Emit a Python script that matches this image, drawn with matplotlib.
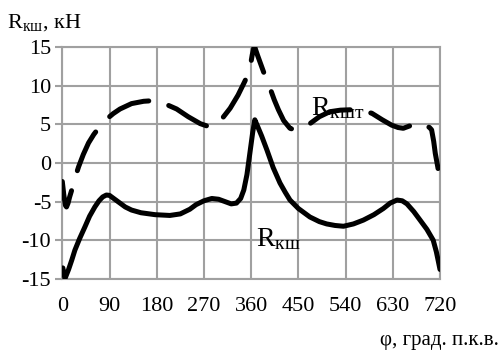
import matplotlib
matplotlib.use("Agg")
import matplotlib.pyplot as plt

plt.rcParams['font.family'] = ['Liberation Serif', 'DejaVu Serif']
plt.rcParams['mathtext.fontset'] = 'custom'
plt.rcParams['mathtext.rm'] = 'Liberation Serif'
plt.rcParams['mathtext.it'] = 'Liberation Serif'
plt.rcParams['axes.unicode_minus'] = False
plt.rcParams['lines.scale_dashes'] = False

# R_кш (solid)
phi_ksh = [1, 5, 12, 18, 24, 33, 43, 52, 62, 70, 77, 84, 90, 100, 110, 120,
           132, 150, 177, 205, 225, 243, 255, 270, 285, 298, 310, 322, 332,
           340, 346, 352, 358, 363, 367, 372, 380, 390, 402, 415, 425, 434,
           450, 472, 490, 504, 520, 536, 555, 574, 594, 612, 625, 638, 648,
           657, 670, 682, 695, 707, 713, 717, 720]
r_ksh = [-13.6, -15.0, -13.8, -12.6, -11.3, -9.8, -8.3, -6.9, -5.7, -4.9,
         -4.4, -4.15, -4.2, -4.7, -5.2, -5.7, -6.1, -6.45, -6.7, -6.8, -6.6,
         -6.0, -5.4, -4.9, -4.6, -4.7, -5.0, -5.3, -5.2, -4.6, -3.5, -1.5,
         1.5, 4.0, 5.6, 4.8, 3.5, 1.7, -0.6, -2.6, -3.8, -4.8, -5.9, -7.0,
         -7.6, -7.9, -8.1, -8.2, -7.9, -7.4, -6.7, -5.9, -5.2, -4.8, -4.9,
         -5.3, -6.3, -7.4, -8.6, -10.0, -11.5, -12.8, -13.8]

# R_кшт (dashed)
phi_kshT = [0, 3, 6, 8, 11, 14, 18, 24, 31, 40, 50, 60, 69, 80, 90, 97, 110,
            132, 155, 177, 198, 218, 240, 263, 280, 290, 304, 320, 335, 348,
            357, 362, 366, 372, 380, 388, 396, 404, 412, 422, 434, 443, 453,
            462, 472, 490, 510, 530, 548, 570, 590, 610, 628, 640, 650, 662,
            676, 690, 700, 704, 708, 711, 716, 720]
r_kshT = [-2.4, -4.2, -5.5, -5.7, -5.2, -4.4, -3.5, -2.0, -0.5, 1.1, 2.6, 3.7,
          4.5, 5.4, 6.0, 6.4, 7.0, 7.7, 8.0, 8.1, 7.6, 7.0, 6.0, 5.1, 4.7,
          4.8, 5.7, 7.1, 8.8, 10.6, 12.0, 14.0, 15.2, 14.0, 12.5, 11.0, 9.7,
          8.2, 6.9, 5.5, 4.5, 4.3, 4.4, 4.7, 5.1, 6.0, 6.65, 6.85, 6.9, 6.8,
          6.45, 5.6, 4.9, 4.6, 4.5, 4.8, 5.2, 5.0, 4.6, 4.3, 2.8, 1.25, -0.6,
          -2.6]

x_ticks = [0, 90, 180, 270, 360, 450, 540, 630, 720]
y_ticks = [-15, -10, -5, 0, 5, 10, 15]

fig = plt.figure(figsize=(5.01, 3.53), dpi=100)
ax = fig.add_axes([62.3 / 501, 1 - 278.7 / 353, (440 - 62.3) / 501, (278.7 - 47.3) / 353])

ax.plot(phi_ksh, r_ksh, color='black', lw=3.6, solid_capstyle='round',
        solid_joinstyle='round', zorder=3)
ax.plot(phi_kshT, r_kshT, color='black', lw=3.6, dashes=(31, 15),
        dash_capstyle='round', dash_joinstyle='round', zorder=3)

ax.set_xlim(0, 720)
ax.set_ylim(-15, 15)
ax.set_xticks(x_ticks)
ax.set_yticks(y_ticks)
ax.grid(True, color='#a0a0a0', lw=1.5)
ax.set_axisbelow(True)
for s in ax.spines.values():
    s.set_color('#a0a0a0')
    s.set_linewidth(1.5)
ax.tick_params(axis='y', length=5, width=1.5, color='#a0a0a0', pad=3, labelsize=16)
ax.tick_params(axis='x', length=0, pad=13, labelsize=16)

ax.text(474, 6.2, r'R$_{\mathrm{кшт}}$', fontsize=20, ha='left', va='baseline', zorder=2)
ax.text(370, -10.8, r'R$_{\mathrm{кш}}$', fontsize=20, ha='left', va='baseline', zorder=2)

fig.text(7 / 501, 1 - 28 / 353, r'R$_{\mathrm{кш}}$, кН', fontsize=16, ha='left', va='baseline')
fig.text(499 / 501, 1 - 345 / 353, 'φ, град. п.к.в.', fontsize=15, ha='right', va='baseline')

fig.savefig('out.png', dpi=100)
